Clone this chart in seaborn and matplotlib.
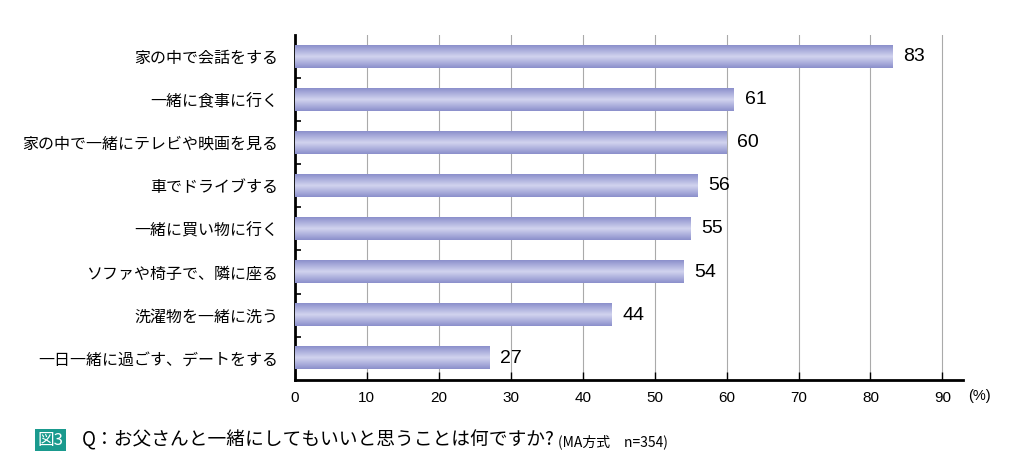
import matplotlib
matplotlib.use("Agg")
import matplotlib.pyplot as plt
import seaborn as sns
import numpy as np
import pandas as pd
from matplotlib.colors import LinearSegmentedColormap

plt.rcParams["font.family"] = "Noto Sans CJK JP"

categories = ["家の中で会話をする", "一緒に食事に行く", "家の中で一緒にテレビや映画を見る",
              "車でドライブする", "一緒に買い物に行く", "ソファや椅子で、隣に座る",
              "洗濯物を一緒に洗う", "一日一緒に過ごす、デートをする"]
values = [83, 61, 60, 56, 55, 54, 44, 27]
xticks = [0, 10, 20, 30, 40, 50, 60, 70, 80, 90]

df = pd.DataFrame({"cat": categories, "val": values})

fig = plt.figure(figsize=(10.24, 4.76), dpi=100)
ax = fig.add_axes([0.288, 0.202, 0.652, 0.725])
sns.barplot(data=df, x="val", y="cat", orient="h", color="#b8bbe0", width=0.52, ax=ax, zorder=3)

grad = np.interp(np.linspace(0, 1, 50), [0, 0.5, 1], [0, 1, 0]).reshape(-1, 1)
cmap = LinearSegmentedColormap.from_list("g", ["#8c90cc", "#d0d2ee"])
for p in ax.patches:
    x0, y0 = p.get_x(), p.get_y()
    w, h = p.get_width(), p.get_height()
    ax.imshow(grad, cmap=cmap, aspect="auto", extent=[x0, x0 + w, y0 + h, y0], zorder=4)
    p.set_visible(False)
ax.set_xlim(0, 92.8)
ax.set_ylim(7.5, -0.5)

for i, v in enumerate(values):
    ax.text(v + 1.5, i, str(v), va="center", ha="left", fontsize=14, family="Liberation Sans", zorder=5)

ax.set_xticks(xticks)
ax.set_xticklabels([str(t) for t in xticks], family="Liberation Sans", fontsize=11)
ax.xaxis.grid(True, color="#aaaaaa", linewidth=0.8, zorder=0)
ax.set_axisbelow(True)
ax.tick_params(axis="x", length=6, direction="in", pad=8, width=1)
ax.tick_params(axis="y", length=0, labelsize=11.5, pad=12)
ax.set_yticks(np.arange(0.5, 7.5, 1), minor=True)
ax.tick_params(axis="y", which="minor", length=4, direction="in", width=1.2)
for s in ["top", "right"]:
    ax.spines[s].set_visible(False)
ax.spines["left"].set_linewidth(2)
ax.spines["bottom"].set_linewidth(2)
ax.set_xlabel("")
ax.set_ylabel("")
fig.text(0.945, 0.168, "(%)", fontsize=10.5, family="Liberation Sans", va="center")

fig.text(0.037, 0.075, "図3", fontsize=12, color="white", va="center",
         bbox=dict(boxstyle="square,pad=0.15", fc="#1a9a8e", ec="none"))
fig.text(0.080, 0.075, "Q：お父さんと一緒にしてもいいと思うことは何ですか?", fontsize=13.5, va="center")
fig.text(0.545, 0.072, "(MA方式　n=354)", fontsize=10, va="center")

fig.savefig("out.png", dpi=100)
